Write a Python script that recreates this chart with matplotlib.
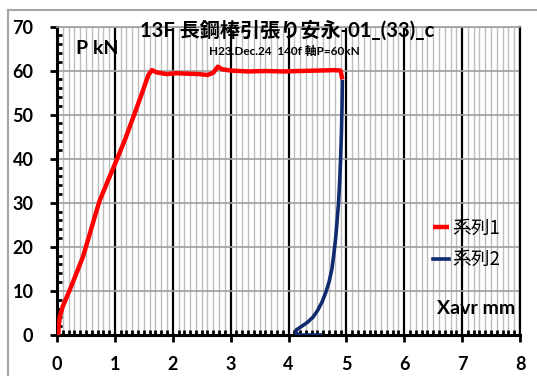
import matplotlib
matplotlib.use("Agg")
import matplotlib.pyplot as plt
from matplotlib.ticker import MultipleLocator
from matplotlib.lines import Line2D

plt.rcParams['font.family'] = ['Lato', 'Noto Sans CJK JP', 'DejaVu Sans']
plt.rcParams['font.weight'] = 'bold'

# 系列1 (load vs displacement, loading)
x1 = [0.02, 0.03, 0.05, 0.10, 0.22, 0.33, 0.45, 0.57, 0.66, 0.74, 0.88, 1.03, 1.18, 1.32, 1.45, 1.58, 1.64,
      1.72, 1.89, 2.05, 2.25, 2.45, 2.60, 2.70, 2.78, 2.85, 3.00, 3.30, 3.60, 3.90, 4.20, 4.50, 4.80, 4.90, 4.93]
y1 = [0.0, 2.0, 4.2, 6.5, 10.2, 13.8, 17.8, 23.1, 27.2, 30.6, 35.0, 39.7, 44.5, 49.5, 54.2, 59.0, 60.1,
      59.6, 59.2, 59.4, 59.3, 59.2, 59.0, 59.5, 60.9, 60.3, 60.0, 59.8, 59.9, 59.8, 59.9, 60.0, 60.1, 60.0, 58.0]
# 系列2 (unloading)
x2 = [4.93, 4.925, 4.915, 4.90, 4.885, 4.865, 4.84, 4.815, 4.78, 4.75, 4.70, 4.64, 4.58, 4.50, 4.42,
      4.32, 4.22, 4.13, 4.13, 4.20, 4.55]
y2 = [57.5, 52.0, 46.0, 40.0, 35.0, 30.0, 26.0, 22.0, 18.0, 15.0, 12.0, 9.5, 7.5, 5.5, 4.0,
      2.8, 1.9, 1.1, 0.4, 0.0, 0.0]

xticks = [0, 1, 2, 3, 4, 5, 6, 7, 8]
yticks = [0, 10, 20, 30, 40, 50, 60, 70]

W, H = 537, 376
fig = plt.figure(figsize=(W / 100, H / 100), dpi=100)
ax = fig.add_axes([57 / W, 1 - 335 / H, (520 - 57) / W, (335 - 26.5) / H])

ax.set_xlim(0, 8)
ax.set_ylim(0, 70)
ax.set_xticks(xticks)
ax.set_yticks(yticks)
ax.xaxis.set_minor_locator(MultipleLocator(0.1))
ax.yaxis.set_minor_locator(MultipleLocator(2))

# grid
ax.set_axisbelow(True)
ax.grid(which='minor', axis='x', color='#bdbdbd', lw=1.0)
ax.grid(which='major', axis='x', color='black', lw=1.6)
ax.grid(which='major', axis='y', color='#a0a0a0', lw=1.2)

for s in ['left', 'bottom']:
    ax.spines[s].set_linewidth(2.2)
    ax.spines[s].set_color('black')
ax.spines['right'].set_linewidth(1.6)
ax.spines['top'].set_color('#a0a0a0')
ax.spines['top'].set_linewidth(1.2)

ax.tick_params(which='major', direction='out', length=5, width=2.0, labelsize=13, top=False, right=False)
ax.tick_params(axis='y', which='major', pad=12)
ax.tick_params(axis='x', which='major', pad=10)
ax.tick_params(which='minor', direction='in', length=3.5, width=2.0, top=False, right=False)

l1, = ax.plot(x1, y1, color='#ff0000', lw=3.2, label='系列1', solid_capstyle='butt', zorder=3)
l2, = ax.plot(x2, y2, color='#102a6e', lw=2.6, label='系列2', zorder=4)

ax.legend(handles=[l1, l2], loc='center left', bbox_to_anchor=(424 / W, 1 - 244 / H),
          bbox_transform=fig.transFigure, frameon=False, handlelength=0.85, handletextpad=0.15,
          labelspacing=0.55, borderpad=0,
          prop={'family': ['Noto Sans CJK JP'], 'weight': 'normal', 'size': 13.5})

# texts
fig.text(287 / W, 1 - 31 / H, '13F 長鋼棒引張り安永-01_(33)_c', ha='center', va='center',
         fontsize=14.5, fontweight='bold')
fig.text(284 / W, 1 - 52 / H, 'H23.Dec.24  140f 軸P=60kN', ha='center', va='center',
         fontsize=8.5, fontweight='bold')
fig.text(76 / W, 1 - 48 / H, 'P kN', ha='left', va='center', fontsize=14, fontweight='bold')
fig.text(437 / W, 1 - 308 / H, 'Xavr mm', ha='left', va='center', fontsize=14, fontweight='bold')

# outer frame lines (left and top)
fig.add_artist(Line2D([8 / W, 8 / W], [0, 1 - 10 / H], transform=fig.transFigure, color='#a6a6a6', lw=1.5))
fig.add_artist(Line2D([8 / W, 1], [1 - 10 / H, 1 - 10 / H], transform=fig.transFigure, color='#a6a6a6', lw=1.5))

fig.savefig('out.png', dpi=100, facecolor='white')
